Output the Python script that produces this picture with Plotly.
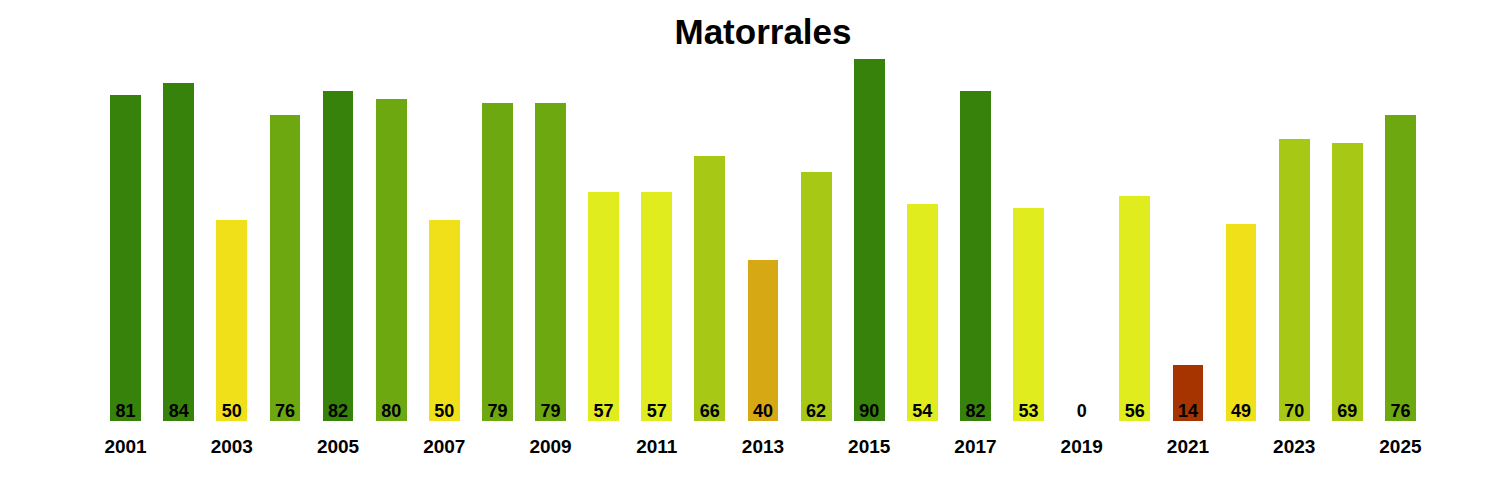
import plotly.graph_objects as go

years = list(range(2001, 2026))
values = [81, 84, 50, 76, 82, 80, 50, 79, 79, 57, 57, 66, 40, 62, 90, 54, 82, 53, 0, 56, 14, 49, 70, 69, 76]
tick_years = list(range(2001, 2026, 2))
title_text = "Matorrales"


def color_for(v):
    if v > 80:
        return "#36820A"
    if v > 70:
        return "#6EA810"
    if v >= 60:
        return "#A8C816"
    if v > 50:
        return "#E1EC1E"
    if v > 40:
        return "#F0E01A"
    if v > 20:
        return "#D6A814"
    return "#A63400"


colors = [color_for(v) for v in values]

fig = go.Figure()
fig.add_trace(go.Bar(
    x=years, y=values, marker_color=colors, marker_line_width=0,
    width=0.58, hoverinfo="x+y", showlegend=False,
))
fig.add_trace(go.Scatter(
    x=years, y=[0] * len(years), mode="text",
    text=[str(v) for v in values], textposition="top center",
    textfont=dict(family="Liberation Sans, Arial", size=18, color="black", weight="bold"),
    showlegend=False, hoverinfo="skip",
))

fig.update_layout(
    width=1500, height=500,
    paper_bgcolor="white", plot_bgcolor="white",
    margin=dict(l=91, r=81, t=51, b=87),
    title=dict(text="<b>" + title_text + "</b>", xref="paper", x=0.5, xanchor="center",
               y=0.952, yanchor="middle",
               font=dict(family="Liberation Sans, Arial", size=35, color="black")),
    xaxis=dict(range=[2000.5, 2025.5], tickvals=tick_years, ticktext=[str(y) for y in tick_years],
               showgrid=False, zeroline=False, showline=False,
               ticks="outside", ticklen=8, tickcolor="white",
               tickfont=dict(family="Liberation Sans, Arial", size=19, color="black", weight="bold")),
    yaxis=dict(range=[0, 90], visible=False, showgrid=False, zeroline=False),
    bargap=0,
)

fig.write_html("out.html")
